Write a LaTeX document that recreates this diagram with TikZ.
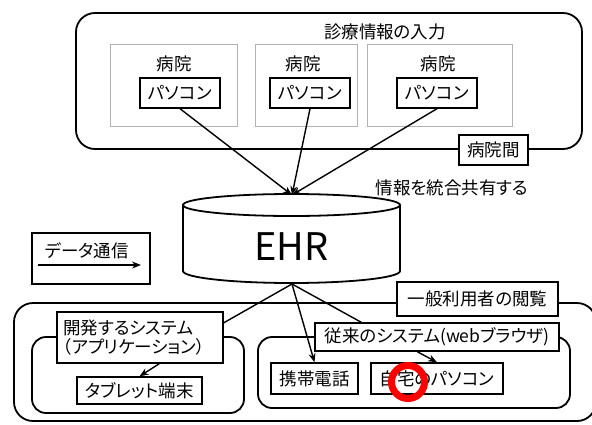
\documentclass[tikz,border=0pt]{standalone}
\usepackage{fontspec}
\setmainfont{Noto Sans CJK JP}[RawFeature=+palt]
\usetikzlibrary{arrows.meta,calc}
\begin{document}
\begin{tikzpicture}[x=1pt,y=-1pt,
  txt/.style={font=\fontsize{17.5}{19}\selectfont, inner sep=0pt},
  box/.style={draw, line width=1.4pt, fill=white, txt},
  hosp/.style={draw=gray!60, line width=0.7pt},
  rbox/.style={draw, line width=1.8pt, rounded corners=19pt},
  ibox/.style={draw, line width=1.8pt, rounded corners=14pt},
  conn/.style={line width=1.4pt},
  arr/.style={conn, -{Stealth[length=9pt,width=7pt]}},
]
\useasboundingbox (0,0) rectangle (592,424);
\clip (0,0) rectangle (592,424);
% top area
\node[rbox, minimum width=506pt, minimum height=136pt] (inarea) at (329,81) {};
\node[txt] (intitle) at (385,32) {診療情報の入力};
\node[hosp, minimum width=127pt, minimum height=82pt] (h1) at (173.5,85) {};
\node[hosp, minimum width=102pt, minimum height=82pt] (h2) at (306,85) {};
\node[hosp, minimum width=145pt, minimum height=82pt] (h3) at (439.5,85) {};
\node[txt] (h1t) at (174,64) {病院};
\node[txt] (h2t) at (303,64) {病院};
\node[txt] (h3t) at (438,64) {病院};
\node[box, minimum width=80pt, minimum height=30pt] (pc1) at (180,93) {パソコン};
\node[box, minimum width=80pt, minimum height=30pt] (pc2) at (310,93) {パソコン};
\node[box, minimum width=80pt, minimum height=30pt] (pc3) at (437,93) {パソコン};
\node[box, minimum width=69pt, minimum height=30pt] (between) at (493.5,150) {病院間};
\node[txt] (share) at (452,188) {情報を統合共有する};
% EHR cylinder
\draw[line width=1.8pt, fill=white] (183,205) -- (183,271) arc[start angle=180,end angle=360,x radius=108.5pt,y radius=12pt] -- (400,205);
\draw[line width=1.8pt] (291.5,205) ellipse[x radius=108.5pt,y radius=11pt];
\node[font=\fontsize{38}{40}\selectfont, inner sep=0pt] (ehr) at (291.5,247) {EHR};
\coordinate (ehrtop) at (292,195);
\coordinate (ehrbot) at (292,284);
% legend
\node[box, minimum width=118pt, minimum height=51pt] (legend) at (91,258.5) {};
\node[txt] (legtext) at (87,251) {データ通信};
\coordinate (legA) at (38,265);
\coordinate (legB) at (141,265);
\draw[arr] (legA) -- (legB);
% bottom area
\node[rbox, minimum width=582pt, minimum height=118pt] (users) at (305,362) {};
\node[box, minimum width=161pt, minimum height=34pt] (usertitle) at (477.5,299) {一般利用者の閲覧};
\node[ibox, minimum width=212pt, minimum height=76pt] (appsys) at (138,375) {};
\node[box, text width=154pt, inner xsep=6pt, minimum height=51pt, align=left] (applabel) at (140,337.5) {開発するシステム\\（アプリケーション）};
\node[box, minimum width=125pt, minimum height=27pt] (tablet) at (139.5,390.5) {タブレット端末};
\node[ibox, minimum width=312pt, minimum height=71pt] (websys) at (414,372.5) {};
\node[box, minimum width=244pt, minimum height=28pt] (weblabel) at (437,337) {従来のシステム(webブラウザ)};
\node[box, minimum width=87pt, minimum height=31pt] (phone) at (314.5,378.5) {携帯電話};
\node[box, minimum width=132pt, minimum height=31pt] (homepc) at (437,378.5) {自宅のパソコン};
% connectors
\draw[arr] (pc1.south) -- (ehrtop);
\draw[arr] (pc2.south) -- (ehrtop);
\draw[arr] (pc3.south) -- (ehrtop);
\coordinate (appin) at ($(applabel.north east)!0.22!(applabel.south east)$);
\draw[conn] (ehrbot) -- (appin);
\draw[arr] (ehrbot) -- (phone.north);
\coordinate (webin) at ($(weblabel.north west)+(47,0)$);
\draw[conn] (ehrbot) -- (webin);
\coordinate (appout) at ($(applabel.south west)+(103,0)$);
\draw[arr] (appout) -- (tablet.north);
\coordinate (webout) at ($(weblabel.south west)+(103,0)$);
\draw[arr] (webout) -- (homepc.north);
% red mark
\node[draw=red, line width=7pt, circle, minimum size=33pt, inner sep=0pt] (mark) at (408,382) {};
\end{tikzpicture}
\end{document}
